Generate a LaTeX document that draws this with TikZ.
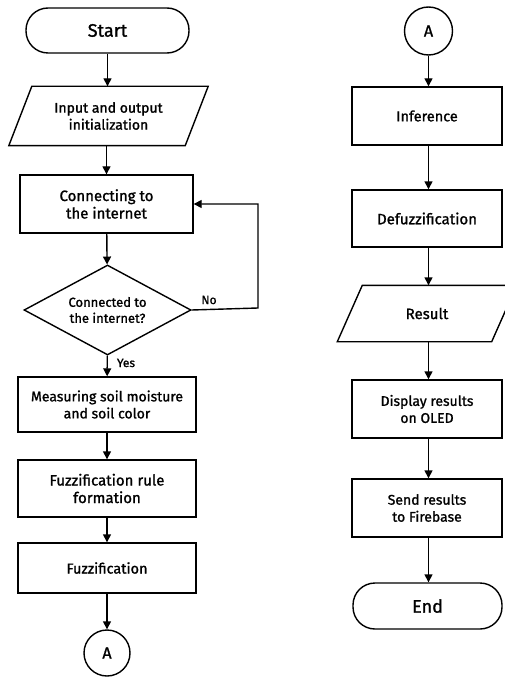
\documentclass[tikz,border=0pt]{standalone}
\usepackage{fontspec}
\setmainfont{Fira Sans}[FakeBold=1.2]
\usetikzlibrary{shapes.geometric,arrows.meta,calc}
\begin{document}
\begin{tikzpicture}[x=1pt,y=-1pt,
  line width=1.4pt,
  every node/.style={inner sep=2pt, align=center, font=\fontsize{14}{17}\selectfont},
  box/.style={draw, rectangle, minimum width=#1},
  box/.default=150,
  big/.style={font=\fontsize{15}{17.5}\selectfont},
  term/.style={draw, rectangle, rounded corners=22pt, minimum width=163, minimum height=45, font=\fontsize{18}{21}\selectfont},
  io/.style={rectangle, draw=none},
  conn/.style={draw, circle, minimum size=46, inner sep=0pt, font=\fontsize{16}{19}\selectfont},
  dec/.style={draw, diamond, shape aspect=1.86, minimum width=167, minimum height=90, inner sep=0pt, font=\fontsize{13}{16}\selectfont},
  arr/.style={-{Triangle[length=8pt,width=8pt]}},
  lbl/.style={font=\fontsize{12}{14}\selectfont, inner sep=0pt}
]
\useasboundingbox (0,0) rectangle (504,679);
\fill[white] (0,0) rectangle (504,679);
% left column
\node[term] (start) at (107.5,30.5) {Start};
\node[io, minimum width=175, minimum height=58] (inp) at (108.5,116) {Input and output\\initialization};
\draw ($(inp.north west)+(11.5,0)$) -- ($(inp.north east)+(11.5,0)$) -- ($(inp.south east)-(11.5,0)$) -- ($(inp.south west)-(11.5,0)$) -- cycle;
\node[box=173, minimum height=58, big] (conn) at (106.5,204) {Connecting to\\the internet};
\node[dec] (chk) at (107.5,310) {Connected to\\the internet?};
\node[box=178, minimum height=55] (meas) at (107,404.5) {Measuring soil moisture\\and soil color};
\node[box=178, minimum height=57, big] (rule) at (107,488.5) {Fuzzification rule\\formation};
\node[box=178, minimum height=50, font=\fontsize{14.5}{17}\selectfont] (fuzz) at (107,568) {Fuzzification};
\node[conn] (a1) at (107,653) {A};
% right column
\node[conn, minimum size=48] (a2) at (428.5,31) {A};
\node[box=150, minimum height=58, font=\fontsize{14.5}{17}\selectfont] (inf) at (427,116) {Inference};
\node[box=150, minimum height=57, big] (defz) at (427,218.5) {Defuzzification};
\node[io, minimum width=153, minimum height=55, big] (res) at (427,313.5) {Result};
\draw ($(res.north west)+(12.5,0)$) -- ($(res.north east)+(12.5,0)$) -- ($(res.south east)-(12.5,0)$) -- ($(res.south west)-(12.5,0)$) -- cycle;
\node[box=150, minimum height=58] (disp) at (427,409) {Display results\\on OLED};
\node[box=150, minimum height=58] (send) at (427,508) {Send results\\to Firebase};
\node[term, minimum width=149, minimum height=46] (end) at (427.5,606) {End};
% connectors
\draw[arr] (start) -- (start.south |- inp.north);
\draw[arr] (inp.south -| conn.north) -- (conn);
\draw[arr] (conn) -- (chk);
\draw[arr] (chk.east) -- (258,308) -- (258,204) -- (conn.east);
\node[lbl] (no) at (209,300) {No};
\draw[arr] (chk) -- (meas);
\node[lbl] (yes) at (126,363) {Yes};
\draw[arr] (meas) -- (rule);
\draw[arr] (rule) -- (fuzz);
\draw[arr] (fuzz) -- (a1);
\draw[arr] (a2) -- (a2 |- inf.north);
\draw[arr] (inf.south -| a2) -- (a2 |- defz.north);
\draw[arr] (defz.south -| a2) -- (a2 |- res.north);
\draw[arr] (res.south -| a2) -- (a2 |- disp.north);
\draw[arr] (disp.south -| a2) -- (a2 |- send.north);
\draw[arr] (send.south -| a2) -- (a2 |- end.north);
\end{tikzpicture}
\end{document}
